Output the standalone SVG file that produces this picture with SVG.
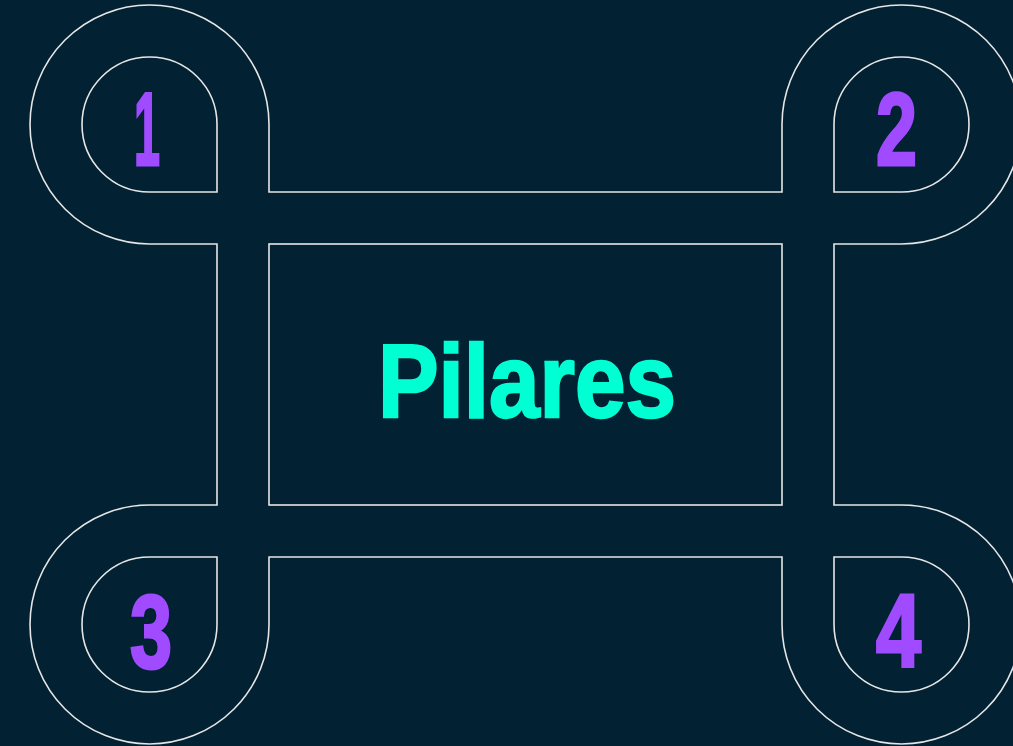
<svg xmlns="http://www.w3.org/2000/svg" width="1013" height="746" viewBox="0 0 1013 746">
<style>
.ln{fill:none;stroke:#e6e6e6;stroke-width:1.6}
.num{font-family:"Liberation Sans",Arial,sans-serif;font-weight:bold;font-size:104px;fill:#a04bff;stroke:#a04bff;stroke-width:3;stroke-linejoin:miter;text-anchor:middle}
.title{font-family:"Liberation Sans",Arial,sans-serif;font-weight:bold;font-size:103px;fill:#00ffd2;stroke:#00ffd2;stroke-width:2.5;text-anchor:middle}
</style>
<rect width="1013" height="746" fill="#022233"/>
<g id="connectors">
<path class="ln" d="M269,124.5 V192 H782 V124.5 A119.5,119.5 0 1 1 901.5,244 H834 V505 H901.5 A119.5,119.5 0 1 1 782,624.5 V557 H269 V624.5 A119.5,119.5 0 1 1 149.5,505 H217 V244 H149.5 A119.5,119.5 0 1 1 269,124.5 Z"/>
</g>
<g id="node-1">
<path class="ln" d="M217,124.5 V192 H149.5 A67.5,67.5 0 1 1 217,124.5 Z"/>
<text class="num" x="147" y="165" textLength="26" lengthAdjust="spacingAndGlyphs">1</text>
</g>
<g id="node-2">
<path class="ln" d="M834,192 V124.5 A67.5,67.5 0 1 1 901.5,192 Z"/>
<text class="num" x="896.5" y="165" textLength="41" lengthAdjust="spacingAndGlyphs">2</text>
</g>
<g id="node-3">
<path class="ln" d="M217,557 V624.5 A67.5,67.5 0 1 1 149.5,557 Z"/>
<text class="num" x="151" y="668" textLength="42" lengthAdjust="spacingAndGlyphs">3</text>
</g>
<g id="node-4">
<path class="ln" d="M834,557 H901.5 A67.5,67.5 0 1 1 834,624.5 Z"/>
<text class="num" x="898.5" y="667" textLength="45" lengthAdjust="spacingAndGlyphs">4</text>
</g>
<g id="node-center">
<rect class="ln" x="269" y="244" width="513" height="261"/>
<text class="title" x="527" y="417" textLength="298" lengthAdjust="spacingAndGlyphs">Pilares</text>
</g>
</svg>
